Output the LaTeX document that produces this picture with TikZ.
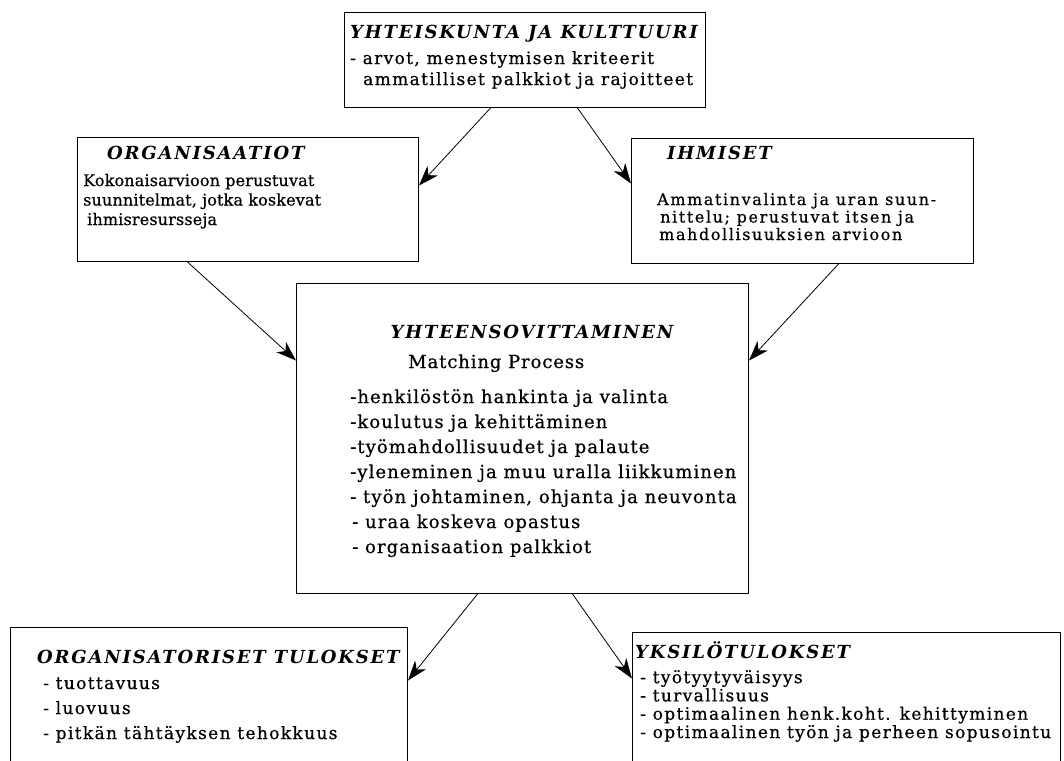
\documentclass[tikz,border=0pt]{standalone}
\usepackage{fontspec}
\setmainfont{DejaVu Serif}
\usetikzlibrary{arrows.meta}

\newcommand\spaced[3]{\fontsize{#1}{#2}\selectfont\addfontfeature{LetterSpace=#3,FakeBold=0.6}}

\begin{document}
\begin{tikzpicture}[
                    x=1pt, y=-1pt,
                    >={Stealth[length=20pt,width=14pt,inset=6pt]},
                    box/.style={draw, line width=1pt, inner sep=0pt, anchor=north west},
                    head/.style={anchor=base west, inner sep=0pt,
                                 font=\fontsize{18}{22}\selectfont\bfseries\itshape\addfontfeature{LetterSpace=10}},
                    body/.style n args={3}{anchor=base west, inner sep=0pt, align=left, font=\spaced{#1}{#2}{#3}},
                    link/.style={->, line width=0.8pt},
                ]
                \useasboundingbox (0,0) rectangle (1064,760);
                \clip (0,0) rectangle (1064,760);

                % boxes
                \node[box, minimum width=361pt, minimum height=95pt] (kult) at (344,12) {};
                \node[box, minimum width=341pt, minimum height=124pt] (org) at (77,137) {};
                \node[box, minimum width=342pt, minimum height=125pt] (ihm) at (631,138) {};
                \node[box, minimum width=452pt, minimum height=310pt] (match) at (296,283) {};
                \node[box, minimum width=397pt, minimum height=150pt] (orgtul) at (10,627) {};
                \node[box, minimum width=428pt, minimum height=150pt] (yks) at (632,632) {};

                % titles
                \node[head] (kult-h) at (350,38) {YHTEISKUNTA JA KULTTUURI};
                \node[head] (org-h) at (107,159) {ORGANISAATIOT};
                \node[head] (ihm-h) at (667,159) {IHMISET};
                \node[head, anchor=base] (match-h) at (532,338) {YHTEENSOVITTAMINEN};
                \node[head] (orgtul-h) at (37,663) {ORGANISATORISET TULOKSET};
                \node[head] (yks-h) at (635,658) {YKSILÖTULOKSET};

                % texts (base = last line)
                \node[body={17}{21}{8}] (kult-t) at (350,85)
                    {- arvot, menestymisen kriteerit\\\hspace*{13pt}ammatilliset palkkiot ja rajoitteet};
                \node[body={16}{19.5}{1}] (org-t) at (83,225)
                    {Kokonaisarvioon perustuvat\\suunnitelmat, jotka koskevat\\\hspace*{4pt}ihmisresursseja};
                \node[body={16}{17.5}{10}] (ihm-t) at (657,240)
                    {Ammatinvalinta ja uran suun-\\\hspace*{3pt}nittelu; perustuvat itsen ja\\\hspace*{2pt}mahdollisuuksien arvioon};
                \node[body={18}{22}{5}] (match-s) at (408,368) {Matching Process};
                \node[body={18}{25}{6}] (match-t) at (350,553)
                    {-henkilöstön hankinta ja valinta\\-koulutus ja kehittäminen\\-työmahdollisuudet ja palaute\\-yleneminen ja muu uralla liikkuminen\\- työn johtaminen, ohjanta ja neuvonta\\\hspace*{2pt}- uraa koskeva opastus\\\hspace*{2pt}- organisaation palkkiot};
                \node[body={17}{25}{8}] (orgtul-t) at (43,739)
                    {- tuottavuus\\- luovuus\\- pitkän tähtäyksen tehokkuus};
                \node[body={17}{18.3}{8}] (yks-t) at (640,738)
                    {- työtyytyväisyys\\- turvallisuus\\- optimaalinen henk.koht. kehittyminen\\- optimaalinen työn ja perheen sopusointu};

                % arrows
                \draw[link] ([xshift=-34.5pt]kult.south) -- ([yshift=14pt]org.east);
                \draw[link] ([xshift=52.5pt]kult.south) -- ([yshift=17.5pt]ihm.west);
                \draw[link] ([xshift=-60.5pt]org.south) -- ([yshift=78pt]match.west);
                \draw[link] ([xshift=36pt]ihm.south) -- ([yshift=78pt]match.east);
                \draw[link] ([xshift=-45pt]match.south) -- ([yshift=22pt]orgtul.east);
                \draw[link] ([xshift=50pt]match.south) -- ([yshift=29pt]yks.west);
            \end{tikzpicture}
\end{document}
